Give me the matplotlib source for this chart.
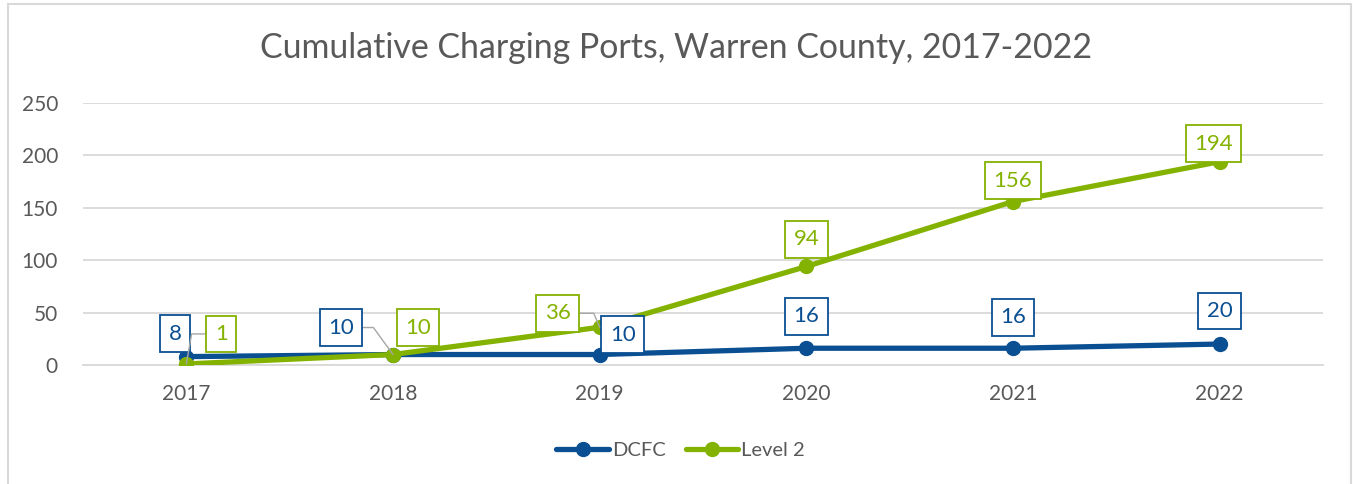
import matplotlib
matplotlib.use("Agg")
import matplotlib.pyplot as plt
from matplotlib.patches import Rectangle

years = ["2017", "2018", "2019", "2020", "2021", "2022"]
dcfc = [8, 10, 10, 16, 16, 20]
level2 = [1, 10, 36, 94, 156, 194]
yticks = [0, 50, 100, 150, 200, 250]

BLUE = "#0A4F92"
GREEN = "#84B200"
GRAY_TXT = "#595959"
GRID = "#D9D9D9"
LEADER = "#A6A6A6"

plt.rcParams['font.family'] = ['Lato', 'DejaVu Sans']

fig = plt.figure(figsize=(13.53, 4.84), dpi=100)
ax = fig.add_axes([83/1353, 1-365/484, (1323-83)/1353, (365-103)/484])

x = list(range(len(years)))
ax.plot(x, dcfc, color=BLUE, lw=3.8, marker='o', ms=10, label="DCFC", zorder=3,
        solid_capstyle='round')
ax.plot(x, level2, color=GREEN, lw=3.8, marker='o', ms=10, label="Level 2", zorder=4,
        solid_capstyle='round')

ax.set_xlim(-0.5, len(years) - 0.5)
ax.set_ylim(0, 250)
ax.set_yticks(yticks)
ax.set_xticks(x)
ax.set_xticklabels(years)
ax.tick_params(axis='both', length=0, labelsize=15, labelcolor=GRAY_TXT)
ax.tick_params(axis='y', pad=18)
ax.tick_params(axis='x', pad=14)
ax.grid(axis='y', color=GRID, lw=1.3)
ax.set_axisbelow(True)
for s in ['top', 'right', 'left']:
    ax.spines[s].set_visible(False)
ax.spines['bottom'].set_color(GRID)
ax.spines['bottom'].set_linewidth(1.3)

# label offsets in pixels (dx, dy), and leader info
px = 0.72
dcfc_off = [(-11, 23), (-52, 27), (23, 20), (0, 32), (0, 31), (0, 33)]
l2_off = [(35, 30), (25, 27), (-42, 14), (0, 27), (0, 21), (-6, 18)]
dcfc_lead = {1: (1, 126)}
l2_lead = {0: (0, 80), 2: (1, 113)}

def add_labels(vals, offs, color, leads):
    for i, (v, (dx, dy)) in enumerate(zip(vals, offs)):
        kw = {}
        if i in leads:
            side, ang = leads[i]
            kw['arrowprops'] = dict(arrowstyle='-', color=LEADER, lw=1.0,
                                    shrinkA=0, shrinkB=0, relpos=(side, 0.5),
                                    connectionstyle=f"angle,angleA=0,angleB={ang},rad=0")
        ax.annotate(str(v), xy=(i, v), xytext=(dx*px, dy*px), textcoords='offset points',
                    ha='center', va='center', fontsize=16, color=color, zorder=6,
                    bbox=dict(boxstyle='square,pad=0.38', fc='white', ec=color, lw=1.3),
                    **kw)

add_labels(dcfc, dcfc_off, BLUE, dcfc_lead)
add_labels(level2, l2_off, GREEN, l2_lead)

fig.text(0.5, 1-48/484, "Cumulative Charging Ports, Warren County, 2017-2022",
         ha='center', va='center', fontsize=24.4, color=GRAY_TXT)

leg = fig.legend(loc='center', bbox_to_anchor=(0.503, 1-450/484), ncol=2, frameon=False,
                 fontsize=14.5, handlelength=2.6, columnspacing=1.0, handletextpad=0.15,
                 labelcolor=GRAY_TXT)

fig.patches.append(Rectangle((8/1353, -0.1), (1351-8)/1353, 1.1 - 4/484,
                             transform=fig.transFigure, fill=False, ec=GRID, lw=1.5))

fig.savefig("out.png", dpi=100)
